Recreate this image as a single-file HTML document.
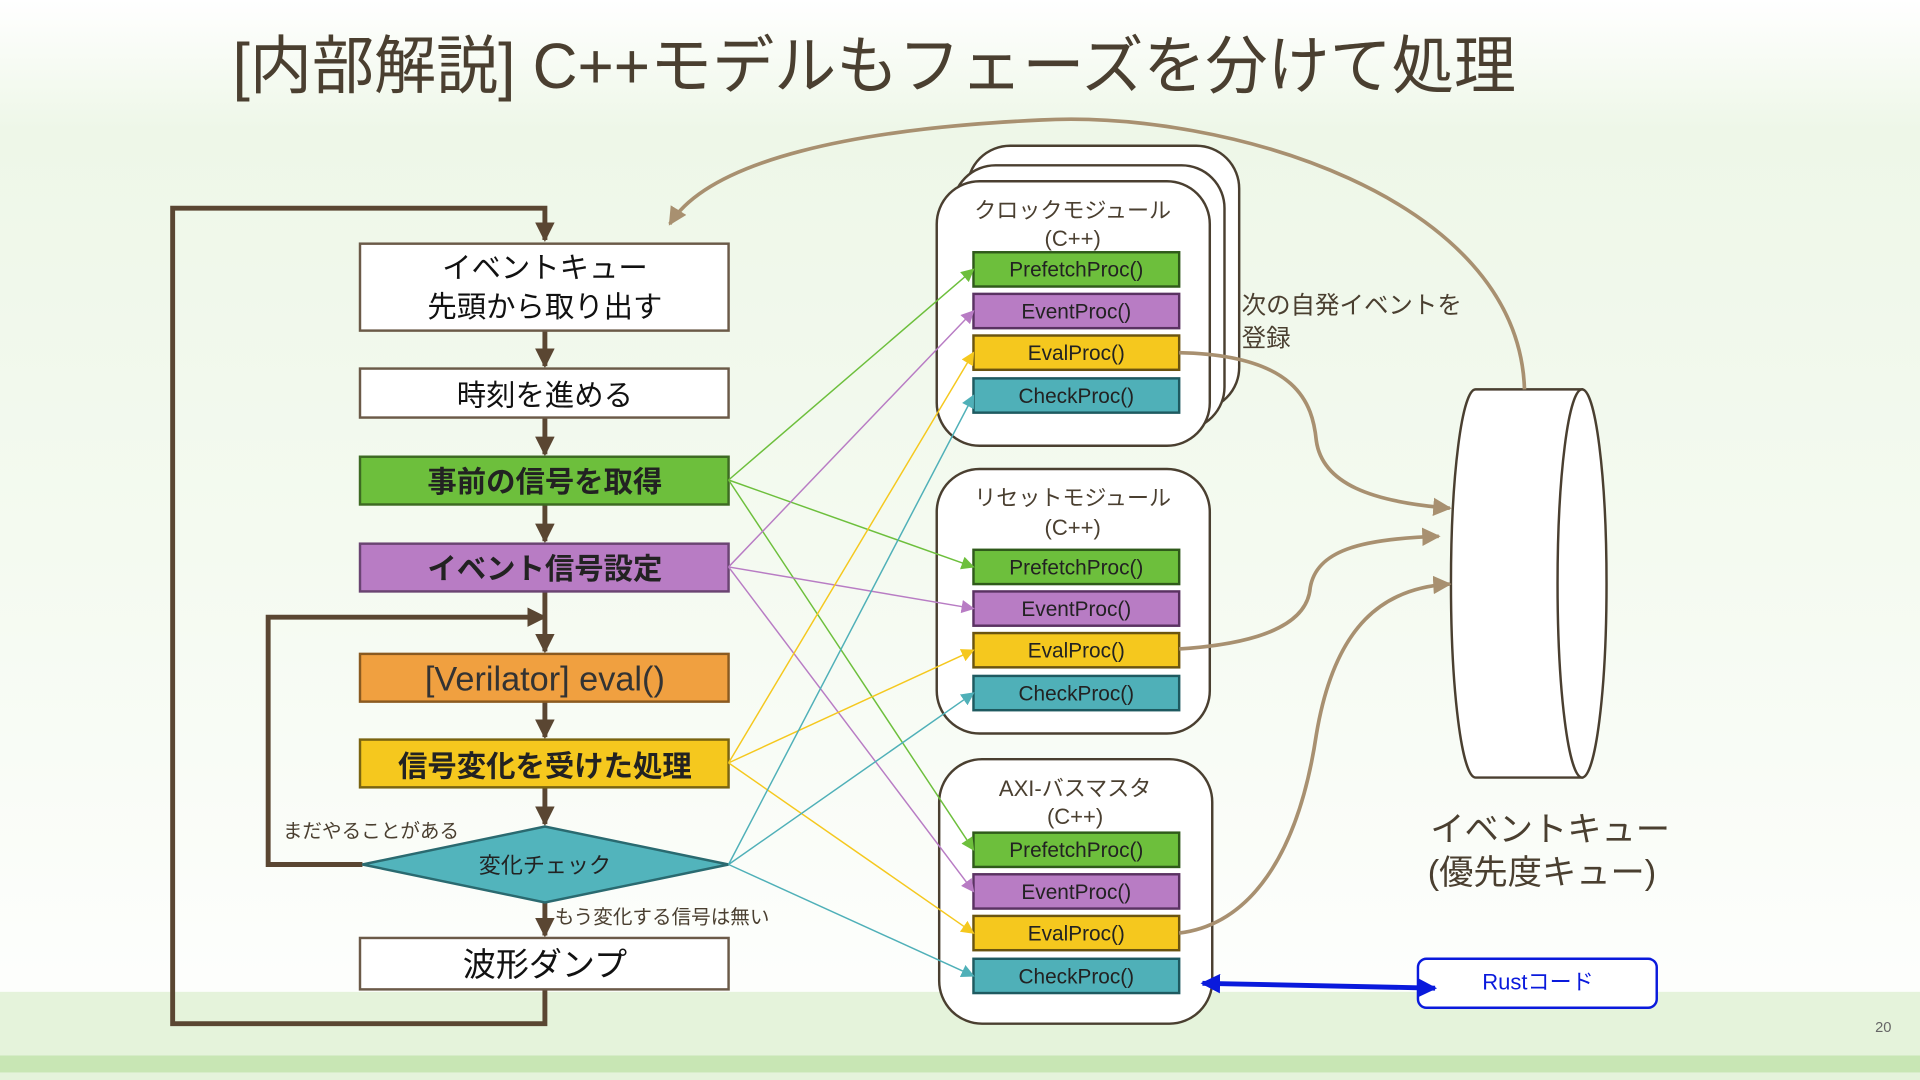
<!DOCTYPE html>
<html><head><meta charset="utf-8">
<style>
html,body{margin:0;padding:0;width:1920px;height:1080px;overflow:hidden;}
svg{display:block;}
text{font-family:"Liberation Sans","Noto Sans CJK JP",sans-serif;}
</style></head>
<body>
<svg width="1920" height="1080" viewBox="0 0 1568 882" xmlns="http://www.w3.org/2000/svg">
<defs>
<linearGradient id="bg" x1="0" y1="0" x2="0" y2="1">
<stop offset="0" stop-color="#ffffff"/>
<stop offset="0.12" stop-color="#eef7e8"/>
<stop offset="0.5" stop-color="#f4faf0"/>
<stop offset="1" stop-color="#ffffff"/>
</linearGradient>
<marker id="ab" viewBox="0 0 10 10" refX="9" refY="5" markerWidth="4" markerHeight="4" orient="auto"><path d="M0,0 L10,5 L0,10 z" fill="#5a4632"/></marker>
<marker id="at" viewBox="0 0 10 10" refX="9" refY="5" markerWidth="5" markerHeight="5" orient="auto"><path d="M0,0 L10,5 L0,10 z" fill="#a89070"/></marker>
<marker id="ag" viewBox="0 0 10 10" refX="9" refY="5" markerWidth="9" markerHeight="9" orient="auto"><path d="M0,0 L10,5 L0,10 z" fill="#6dbf3c"/></marker>
<marker id="ap" viewBox="0 0 10 10" refX="9" refY="5" markerWidth="9" markerHeight="9" orient="auto"><path d="M0,0 L10,5 L0,10 z" fill="#b87cc4"/></marker>
<marker id="ay" viewBox="0 0 10 10" refX="9" refY="5" markerWidth="9" markerHeight="9" orient="auto"><path d="M0,0 L10,5 L0,10 z" fill="#f5c81e"/></marker>
<marker id="ac" viewBox="0 0 10 10" refX="9" refY="5" markerWidth="9" markerHeight="9" orient="auto"><path d="M0,0 L10,5 L0,10 z" fill="#4fb0b8"/></marker>
<marker id="abl" viewBox="0 0 10 10" refX="9" refY="5" markerWidth="4" markerHeight="4" orient="auto"><path d="M0,0 L10,5 L0,10 z" fill="#0a1adc"/></marker>
<marker id="abl2" viewBox="0 0 10 10" refX="1" refY="5" markerWidth="4" markerHeight="4" orient="auto"><path d="M10,0 L0,5 L10,10 z" fill="#0a1adc"/></marker>
</defs>
<rect width="1568" height="882" fill="url(#bg)"/>
<rect y="810" width="1568" height="52" fill="#e5f3db"/>
<rect y="862" width="1568" height="14" fill="#c8e6b4"/>
<rect y="876" width="1568" height="6" fill="#e5f3db"/>

<text x="190" y="72" font-size="52" fill="#4a3f30" textLength="1048" lengthAdjust="spacingAndGlyphs">[内部解説] C++モデルもフェーズを分けて処理</text>

<g stroke="#5a4632" stroke-width="4" fill="none">
<polyline points="445,808 445,836 141,836 141,170 445,170 445,196" marker-end="url(#ab)"/>
<polyline points="296,706 219,706 219,504 445,504" marker-end="url(#ab)"/>
<line x1="445" y1="270" x2="445" y2="299" marker-end="url(#ab)"/>
<line x1="445" y1="341" x2="445" y2="371" marker-end="url(#ab)"/>
<line x1="445" y1="412" x2="445" y2="442" marker-end="url(#ab)"/>
<line x1="445" y1="483" x2="445" y2="532" marker-end="url(#ab)"/>
<line x1="445" y1="573" x2="445" y2="602" marker-end="url(#ab)"/>
<line x1="445" y1="643" x2="445" y2="673" marker-end="url(#ab)"/>
<line x1="445" y1="737" x2="445" y2="764" marker-end="url(#ab)"/>
</g>

<g stroke="#6b5a48" stroke-width="2">
<rect x="294" y="199" width="301" height="71" fill="#fff"/>
<rect x="294" y="301" width="301" height="40" fill="#fff"/>
<rect x="294" y="373" width="301" height="39" fill="#6dbf3c" stroke="#3d6a22"/>
<rect x="294" y="444" width="301" height="39" fill="#b87cc4" stroke="#6a4472"/>
<rect x="294" y="534" width="301" height="39" fill="#f0a040" stroke="#8a5a20"/>
<rect x="294" y="604" width="301" height="39" fill="#f5c81e" stroke="#7a6410"/>
<polygon points="296,706 445,675 595,706 445,737" fill="#52b4bc" stroke="#2a6a70"/>
<rect x="294" y="766" width="301" height="42" fill="#fff"/>
</g>
<g font-size="24" fill="#111" text-anchor="middle">
<text x="445" y="227">イベントキュー</text>
<text x="445" y="259">先頭から取り出す</text>
<text x="445" y="331">時刻を進める</text>
<text x="445" y="402" font-weight="bold" fill="#222">事前の信号を取得</text>
<text x="445" y="473" font-weight="bold" fill="#222">イベント信号設定</text>
<text x="445" y="564" font-size="28" fill="#333">[Verilator] eval()</text>
<text x="445" y="634" font-weight="bold" fill="#222">信号変化を受けた処理</text>
<text x="445" y="713" font-size="18" fill="#222">変化チェック</text>
<text x="445" y="797" font-size="27">波形ダンプ</text>
</g>
<text x="231" y="684" font-size="16" fill="#4a3f30">まだやることがある</text>
<text x="453" y="754" font-size="16" fill="#4a3f30">もう変化する信号は無い</text>

<g stroke="#4a3f30" stroke-width="2" fill="#fff">
<rect x="790" y="119" width="222" height="216" rx="35"/>
<rect x="778" y="135" width="222" height="216" rx="35"/>
<rect x="765" y="148" width="223" height="216" rx="35"/>
<rect x="765" y="383" width="223" height="216" rx="35"/>
<rect x="767" y="620" width="223" height="216" rx="35"/>
</g>
<g font-size="18" fill="#4a3f30" text-anchor="middle">
<text x="876" y="178">クロックモジュール</text><text x="876" y="201">(C++)</text>
<text x="876" y="413">リセットモジュール</text><text x="876" y="437">(C++)</text>
<text x="878" y="650">AXI-バスマスタ</text><text x="878" y="673">(C++)</text>
</g>
<g stroke-width="2">
<rect x="795" y="206" width="168" height="28" fill="#6dbf3c" stroke="#2f5a1a"/>
<rect x="795" y="240" width="168" height="28" fill="#b87cc4" stroke="#5a3262"/>
<rect x="795" y="274" width="168" height="28" fill="#f5c81e" stroke="#6a5410"/>
<rect x="795" y="309" width="168" height="28" fill="#4fb0b8" stroke="#1e5a60"/>
<rect x="795" y="449" width="168" height="28" fill="#6dbf3c" stroke="#2f5a1a"/>
<rect x="795" y="483" width="168" height="28" fill="#b87cc4" stroke="#5a3262"/>
<rect x="795" y="517" width="168" height="28" fill="#f5c81e" stroke="#6a5410"/>
<rect x="795" y="552" width="168" height="28" fill="#4fb0b8" stroke="#1e5a60"/>
<rect x="795" y="680" width="168" height="28" fill="#6dbf3c" stroke="#2f5a1a"/>
<rect x="795" y="714" width="168" height="28" fill="#b87cc4" stroke="#5a3262"/>
<rect x="795" y="748" width="168" height="28" fill="#f5c81e" stroke="#6a5410"/>
<rect x="795" y="783" width="168" height="28" fill="#4fb0b8" stroke="#1e5a60"/>
</g>
<g font-size="17" fill="#222" text-anchor="middle">
<text x="879" y="226">PrefetchProc()</text><text x="879" y="260">EventProc()</text><text x="879" y="294">EvalProc()</text><text x="879" y="329">CheckProc()</text>
<text x="879" y="469">PrefetchProc()</text><text x="879" y="503">EventProc()</text><text x="879" y="537">EvalProc()</text><text x="879" y="572">CheckProc()</text>
<text x="879" y="700">PrefetchProc()</text><text x="879" y="734">EventProc()</text><text x="879" y="768">EvalProc()</text><text x="879" y="803">CheckProc()</text>
</g>

<g stroke-width="1.2" fill="none">
<line x1="595" y1="392" x2="795" y2="220" stroke="#6dbf3c" marker-end="url(#ag)"/>
<line x1="595" y1="392" x2="795" y2="463" stroke="#6dbf3c" marker-end="url(#ag)"/>
<line x1="595" y1="392" x2="795" y2="694" stroke="#6dbf3c" marker-end="url(#ag)"/>
<line x1="595" y1="463" x2="795" y2="254" stroke="#b87cc4" marker-end="url(#ap)"/>
<line x1="595" y1="463" x2="795" y2="497" stroke="#b87cc4" marker-end="url(#ap)"/>
<line x1="595" y1="463" x2="795" y2="728" stroke="#b87cc4" marker-end="url(#ap)"/>
<line x1="595" y1="623" x2="795" y2="288" stroke="#f5c81e" marker-end="url(#ay)"/>
<line x1="595" y1="623" x2="795" y2="531" stroke="#f5c81e" marker-end="url(#ay)"/>
<line x1="595" y1="623" x2="795" y2="762" stroke="#f5c81e" marker-end="url(#ay)"/>
<line x1="595" y1="706" x2="795" y2="323" stroke="#4fb0b8" marker-end="url(#ac)"/>
<line x1="595" y1="706" x2="795" y2="566" stroke="#4fb0b8" marker-end="url(#ac)"/>
<line x1="595" y1="706" x2="795" y2="797" stroke="#4fb0b8" marker-end="url(#ac)"/>
</g>

<path d="M1205,318 L1292,318 L1292,635 L1205,635 A20,158 0 0 1 1205,318 Z" fill="#fff" stroke="#4a3f30" stroke-width="2"/>
<ellipse cx="1292" cy="476.5" rx="20" ry="158.5" fill="#fff" stroke="#4a3f30" stroke-width="2"/>
<text x="1168" y="687" font-size="28" fill="#4a3f30">イベントキュー</text>
<text x="1166" y="722" font-size="28" fill="#4a3f30">(優先度キュー)</text>

<text x="1014" y="256" font-size="20" fill="#4a3f30">次の自発イベントを</text>
<text x="1014" y="283" font-size="20" fill="#4a3f30">登録</text>

<g stroke="#a89070" stroke-width="3" fill="none">
<path d="M1245,318 C1240,160 1000,90 850,98 C700,105 580,130 547,183" marker-end="url(#at)"/>
<path d="M963,288 C1060,290 1072,330 1075,360 C1080,395 1120,410 1184,415" marker-end="url(#at)"/>
<path d="M963,530 C1040,525 1068,505 1070,480 C1075,450 1110,440 1175,438" marker-end="url(#at)"/>
<path d="M963,762 C1020,755 1060,700 1075,600 C1090,510 1130,480 1184,477" marker-end="url(#at)"/>
</g>

<rect x="1158" y="783" width="195" height="40" rx="7" fill="#fff" stroke="#0a1adc" stroke-width="2"/>
<text x="1256" y="808" font-size="18" fill="#0a1adc" text-anchor="middle">Rustコード</text>
<line x1="982" y1="803" x2="1172" y2="807" stroke="#0a1adc" stroke-width="4" marker-end="url(#abl)" marker-start="url(#abl2)"/>

<text x="1538" y="843" font-size="12" fill="#666" text-anchor="middle">20</text>
</svg>
</body></html>
